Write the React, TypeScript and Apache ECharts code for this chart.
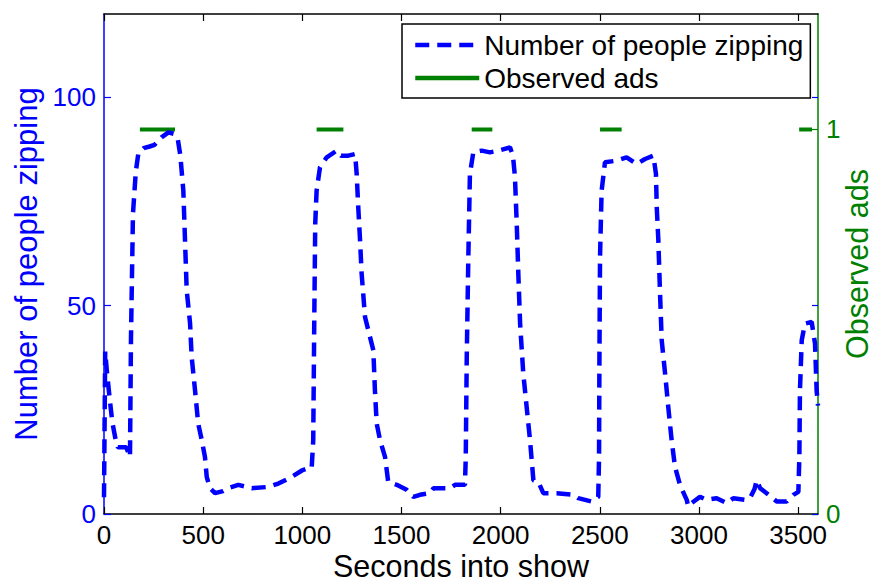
import React, { useEffect, useRef } from 'react';
import * as echarts from 'echarts';

// Blue dashed series: number of people zipping (seconds into show, count)
const zipTimes = [
  0, 6, 15, 28, 42, 58, 70, 112, 131, 136, 146, 160, 173, 200, 230, 255, 290, 325, 355, 372,
  385, 400, 417, 434, 442, 459, 475, 493, 509, 518, 534, 560, 600, 627, 677, 745, 829, 879, 946, 1000,
  1022, 1047, 1055, 1060, 1065, 1072, 1089, 1123, 1173, 1195, 1232, 1266, 1274, 1282, 1291, 1299, 1316, 1341, 1358, 1366,
  1375, 1392, 1417, 1433, 1476, 1526, 1560, 1593, 1644, 1661, 1745, 1770, 1820, 1824, 1829, 1837, 1845, 1862, 1904, 1946,
  1988, 2047, 2062, 2072, 2081, 2089, 2098, 2114, 2131, 2148, 2165, 2190, 2215, 2282, 2366, 2391, 2459, 2492, 2496, 2498,
  2501, 2509, 2526, 2585, 2635, 2686, 2728, 2770, 2783, 2787, 2795, 2803, 2812, 2829, 2845, 2862, 2879, 2904, 2938, 2946,
  2962, 3005, 3039, 3089, 3140, 3173, 3232, 3257, 3280, 3291, 3308, 3341, 3392, 3442, 3476, 3501, 3506, 3509, 3518, 3534,
  3568, 3585, 3593, 3600,
];
const zipCounts = [
  4, 39, 34, 28, 22, 18, 16, 16, 13.7, 42, 72, 82, 86.5, 87.8, 88.2, 88.6, 90.4, 91.6, 91.2, 90,
  86, 77.6, 53.7, 45.7, 37.7, 29.7, 21.7, 17.7, 13.7, 8.9, 6.2, 5, 5.5, 6.2, 7, 6.2, 6.5, 7.3, 8.9, 10.5,
  10.9, 11, 17.7, 45.7, 69.7, 77.6, 83.2, 85.6, 87.2, 86, 86, 86.4, 81.6, 73.6, 65.7, 57.7, 47.3, 42.5, 39.3, 29.7,
  21.7, 17.7, 13.7, 7.7, 7, 5.8, 4.1, 4.6, 5, 6.2, 6.2, 7, 7, 13.7, 37.7, 61.7, 81.6, 86.8, 87.2, 86.8,
  87.2, 88, 86, 80.9, 69.7, 57.7, 45.7, 33.7, 25.7, 17.7, 8.1, 7.7, 5, 5, 4.6, 3.8, 3, 4.1, 13.7, 37.7,
  61.7, 77.6, 84.4, 84.8, 85.6, 84, 85.2, 86, 81.6, 73.6, 65.7, 53.7, 41.7, 33.7, 25.7, 17.7, 11.3, 7, 3.4, 1.8,
  2.6, 4.1, 3.4, 3.8, 2.6, 3.8, 3.4, 3.8, 6, 8.1, 6.2, 5, 3, 3, 4.6, 5.3, 13.7, 29.7, 41.7, 45.7,
  46.1, 40.9, 29.7, 26,
];

// Green series: observed ad intervals (seconds), drawn at level 1
const adStarts = [181, 1072, 1854, 2501, 3505];
const adEnds = [358, 1207, 1958, 2610, 3570];
const adLevel = 1;

// Tick values
const xTickValues = [0, 500, 1000, 1500, 2000, 2500, 3000, 3500];
const leftTickValues = [0, 50, 100];
const rightTickValues = [0, 1];

const FONT = "'Liberation Sans', Arial, Helvetica, sans-serif";
const BLUE = '#0000ff';
const GREEN = '#008000';
const BLACK = '#000000';

export default function App() {
  const ref = useRef<HTMLDivElement>(null);

  useEffect(() => {
    if (!ref.current) return;
    const chart = echarts.init(ref.current, undefined, { renderer: 'svg' });

    const zipData = zipTimes.map((t, i) => [t, zipCounts[i]]);
    const adData: any[] = [];
    adStarts.forEach((s, i) => {
      adData.push([s, adLevel]);
      adData.push([adEnds[i], adLevel]);
      if (i < adStarts.length - 1) {
        adData.push([(adEnds[i] + adStarts[i + 1]) / 2, '-']);
      }
    });

    const plain = (v: number) => String(v);

    const option: any = {
      animation: false,
      backgroundColor: '#ffffff',
      grid: {
        left: 104,
        right: 57,
        top: 14,
        bottom: 68,
        containLabel: false,
        outerBoundsMode: 'none',
      },
      legend: {
        left: 402,
        top: 24,
        orient: 'vertical',
        backgroundColor: '#ffffff',
        borderColor: BLACK,
        borderWidth: 1.5,
        borderRadius: 0,
        padding: [7, 7, 6, 11],
        itemGap: 5,
        itemWidth: 64,
        itemHeight: 20,
        textStyle: { fontSize: 28, fontFamily: FONT, color: BLACK },
        itemStyle: { opacity: 0 },
        lineStyle: { width: 4.5 },
        data: ['Number of people zipping', 'Observed ads'],
      },
      xAxis: [
        {
          type: 'value',
          position: 'bottom',
          min: 0,
          max: 3600,
          axisLine: { show: true, onZero: false, lineStyle: { color: BLACK, width: 1.5 } },
          axisTick: { show: true, inside: true, length: 7, customValues: xTickValues, lineStyle: { color: BLACK, width: 1.2 } },
          axisLabel: { show: true, customValues: xTickValues, formatter: plain, fontSize: 26, fontFamily: FONT, color: BLACK, margin: 8 },
          splitLine: { show: false },
          name: 'Seconds into show',
          nameLocation: 'middle',
          nameGap: 36,
          nameMoveOverlap: false,
          nameTextStyle: { fontSize: 30.5, fontFamily: FONT, color: BLACK },
        },
        {
          type: 'value',
          position: 'top',
          min: 0,
          max: 3600,
          axisLine: { show: true, onZero: false, lineStyle: { color: BLACK, width: 1.5 } },
          axisTick: { show: true, inside: true, length: 7, customValues: xTickValues, lineStyle: { color: BLACK, width: 1.2 } },
          axisLabel: { show: false },
          splitLine: { show: false },
        },
      ],
      yAxis: [
        {
          type: 'value',
          position: 'left',
          min: 0,
          max: 120,
          axisLine: { show: true, onZero: false, lineStyle: { color: BLUE, width: 1.5 } },
          axisTick: { show: true, inside: true, length: 7, customValues: leftTickValues, lineStyle: { color: BLUE, width: 1.2 } },
          axisLabel: { show: true, customValues: leftTickValues, formatter: plain, fontSize: 26, fontFamily: FONT, color: BLUE, margin: 8 },
          splitLine: { show: false },
          name: 'Number of people zipping',
          nameLocation: 'middle',
          nameGap: 62,
          nameMoveOverlap: false,
          nameTextStyle: { fontSize: 31, fontFamily: FONT, color: BLUE },
        },
        {
          type: 'value',
          position: 'right',
          min: 0,
          max: 1.3,
          axisLine: { show: true, onZero: false, lineStyle: { color: GREEN, width: 1.5 } },
          axisTick: { show: true, inside: true, length: 7, customValues: rightTickValues, lineStyle: { color: GREEN, width: 1.2 } },
          axisLabel: { show: true, customValues: rightTickValues, formatter: plain, fontSize: 26, fontFamily: FONT, color: GREEN, margin: 8 },
          splitLine: { show: false },
          name: 'Observed ads',
          nameLocation: 'middle',
          nameGap: 23,
          nameMoveOverlap: false,
          nameTextStyle: { fontSize: 30.5, fontFamily: FONT, color: GREEN },
        },
        {
          type: 'value',
          position: 'right',
          min: 0,
          max: 120,
          axisLine: { show: false, onZero: false },
          axisTick: { show: true, inside: true, length: 6, customValues: leftTickValues, lineStyle: { color: BLUE, width: 1.2 } },
          axisLabel: { show: false },
          splitLine: { show: false },
        },
      ],
      series: [
        {
          name: 'Number of people zipping',
          type: 'line',
          xAxisIndex: 0,
          yAxisIndex: 0,
          data: zipData,
          symbol: 'none',
          showSymbol: false,
          lineStyle: { color: BLUE, width: 4.5, type: [14, 8], cap: 'butt' },
          itemStyle: { color: BLUE },
          z: 3,
        },
        {
          name: 'Observed ads',
          type: 'line',
          xAxisIndex: 0,
          yAxisIndex: 1,
          data: adData,
          symbol: 'none',
          showSymbol: false,
          connectNulls: false,
          lineStyle: { color: GREEN, width: 4 },
          itemStyle: { color: GREEN },
          z: 2,
        },
      ],
    };

    chart.setOption(option);
    return () => {
      chart.dispose();
    };
  }, []);

  return (
    <div
      ref={ref}
      style={{ position: 'fixed', left: 0, top: 0, width: 875, height: 582, background: '#fff' }}
    />
  );
}
